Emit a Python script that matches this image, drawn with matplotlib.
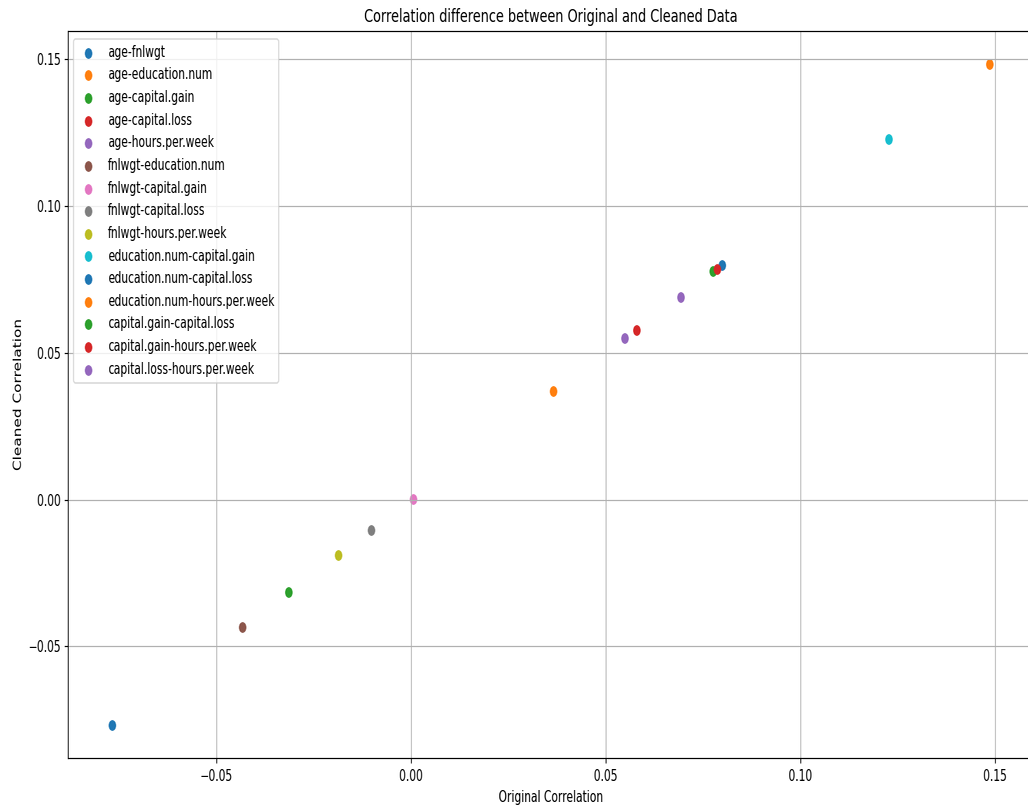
import io

import matplotlib
matplotlib.use("Agg")
import matplotlib.pyplot as plt
from PIL import Image

# Variable pairs and their correlations before and after cleaning
pairs = [
    "age-fnlwgt",
    "age-education.num",
    "age-capital.gain",
    "age-capital.loss",
    "age-hours.per.week",
    "fnlwgt-education.num",
    "fnlwgt-capital.gain",
    "fnlwgt-capital.loss",
    "fnlwgt-hours.per.week",
    "education.num-capital.gain",
    "education.num-capital.loss",
    "education.num-hours.per.week",
    "capital.gain-capital.loss",
    "capital.gain-hours.per.week",
    "capital.loss-hours.per.week",
]
original_corr = [-0.0768, 0.0366, 0.0776, 0.0579, 0.0692, -0.0433, 0.0005,
                 -0.0102, -0.0187, 0.1227, 0.0799, 0.1486, -0.0315, 0.0786, 0.0548]
cleaned_corr = [-0.0767, 0.0368, 0.0777, 0.0576, 0.0688, -0.0433, 0.0003,
                -0.0102, -0.0187, 0.1227, 0.0797, 0.1482, -0.0313, 0.0784, 0.0549]

# Final image size and horizontal compression of the rendered canvas
OUT_W, OUT_H = 1028, 807
X_SCALE = 0.70
DPI = 110
render_w = OUT_W / X_SCALE

fig = plt.figure(figsize=(render_w / DPI, OUT_H / DPI), dpi=DPI)
left, right, top, bottom = 68, 1033, 31, 758
ax = fig.add_axes([left / OUT_W, 1 - bottom / OUT_H,
                   (right - left) / OUT_W, (bottom - top) / OUT_H])

for name, xo, yc in zip(pairs, original_corr, cleaned_corr):
    ax.scatter(xo, yc, label=name)

ax.set_title("Correlation difference between Original and Cleaned Data", fontsize=12)
ax.set_xlabel("Original Correlation")
ax.set_ylabel("Cleaned Correlation")
ax.grid(True)
ax.legend(loc="upper left")

buf = io.BytesIO()
fig.savefig(buf, format="png", dpi=DPI)
buf.seek(0)
img = Image.open(buf).convert("RGB")
img = img.resize((OUT_W, OUT_H), Image.LANCZOS)
img.save("out.png")
